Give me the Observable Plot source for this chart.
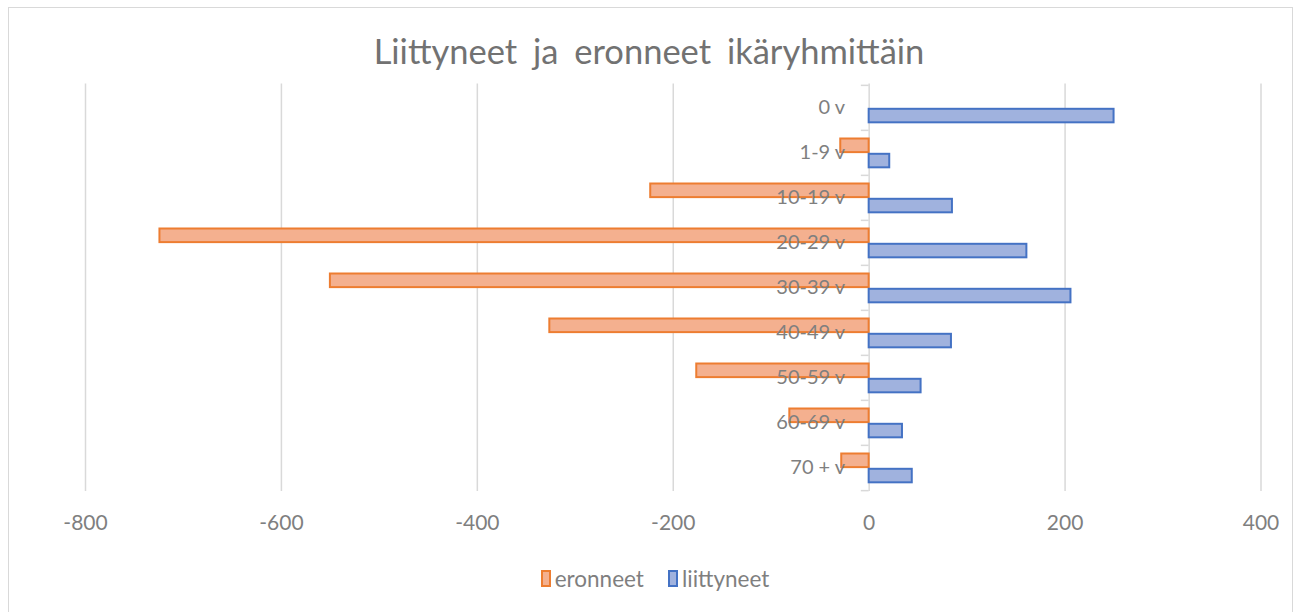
<!DOCTYPE html>
<html>
<head>
<meta charset="utf-8">
<script src="https://cdn.jsdelivr.net/npm/d3@7"></script>
<script src="https://cdn.jsdelivr.net/npm/@observablehq/plot@0.6"></script>
<style>
  html, body { margin: 0; padding: 0; background: #fff; }
  body { width: 1298px; height: 612px; position: relative; overflow: hidden; font-family: Lato, "Open Sans", sans-serif; }
  #frame { position: absolute; left: 8px; top: 7px; width: 1285px; height: 640px; border: 1.5px solid #d9d9d9; box-sizing: border-box; }
  #title { position: absolute; left: 0; top: 31px; width: 1298px; text-align: center; font-size: 34.5px; color: #727272; word-spacing: 7px; line-height: 40px; }
  #chart { position: absolute; left: 0; top: 0; }
  #legend { position: absolute; left: 6px; top: 565px; width: 1298px; display: flex; justify-content: center; align-items: center; font-size: 22.5px; color: #7f7f7f; }
  .item { display: flex; align-items: center; margin: 0 12px; }
  .sw { display: inline-block; width: 6px; height: 13px; border: 2px solid; margin-right: 4px; }
</style>
</head>
<body>
<div id="frame"></div>
<div id="chart"></div>
<div id="title">Liittyneet ja eronneet ikäryhmittäin</div>
<div id="legend"></div>
<script>
const categories = ["0 v", "1-9 v", "10-19 v", "20-29 v", "30-39 v", "40-49 v", "50-59 v", "60-69 v", "70 + v"];
const eronneet = [0, -29, -223, -724, -550, -326, -176, -81, -28];
const liittyneet = [250, 21, 85, 161, 206, 84, 53, 34, 44];
const xTicks = [-800, -600, -400, -200, 0, 200, 400];
const seriesNames = ["eronneet", "liittyneet"];
const seriesFill = ["#f4b08f", "#a0b2de"];
const seriesStroke = ["#ed7d31", "#4472c4"];

const rowsE = categories.map((c, i) => ({cat: c, value: eronneet[i]})).filter(d => d.value !== 0);
const rowsL = categories.map((c, i) => ({cat: c, value: liittyneet[i]})).filter(d => d.value !== 0);

const marginTop = 83.5, frameH = 491 - 83.5;
const step = frameH / categories.length;

const plot = Plot.plot({
  width: 1298,
  height: 550,
  marginTop: marginTop,
  marginBottom: 550 - 491,
  marginLeft: 85,
  marginRight: 37.5,
  style: {fontFamily: "Lato, 'Open Sans', sans-serif", background: "transparent"},
  x: {domain: [-800, 400], ticks: xTicks},
  y: {domain: categories, padding: 0, axis: null},
  marks: [
    Plot.gridX(xTicks, {stroke: "#d9d9d9", strokeOpacity: 1, strokeWidth: 1.5}),
    Plot.axisX(xTicks, {tickSize: 0, tickPadding: 24, fontSize: 21, color: "#7f7f7f", label: null, tickFormat: d => String(d)}),
    Plot.ruleY(categories, {y: d => d, dy: -step / 2, x1: -8, x2: 0, stroke: "#d9d9d9", strokeWidth: 1.5}),
    Plot.ruleY(categories.slice(-1), {y: d => d, dy: step / 2, x1: -8, x2: 0, stroke: "#d9d9d9", strokeWidth: 1.5}),
    Plot.barX(rowsE, {x: "value", y: "cat", fill: seriesFill[0], stroke: seriesStroke[0], strokeWidth: 2, insetTop: 8.5, insetBottom: step - 22.4}),
    Plot.barX(rowsL, {x: "value", y: "cat", fill: seriesFill[1], stroke: seriesStroke[1], strokeWidth: 2, insetTop: 23.8, insetBottom: step - 37.6}),
    Plot.text(categories, {x: 0, y: d => d, text: d => d, dx: -24, textAnchor: "end", fontSize: 20, fill: "#7f7f7f"})
  ]
});
document.getElementById("chart").appendChild(plot);

const legend = document.getElementById("legend");
seriesNames.forEach((name, i) => {
  const item = document.createElement("div");
  item.className = "item";
  const sw = document.createElement("span");
  sw.className = "sw";
  sw.style.background = seriesFill[i];
  sw.style.borderColor = seriesStroke[i];
  const t = document.createElement("span");
  t.textContent = name;
  item.appendChild(sw);
  item.appendChild(t);
  legend.appendChild(item);
});
</script>
</body>
</html>
